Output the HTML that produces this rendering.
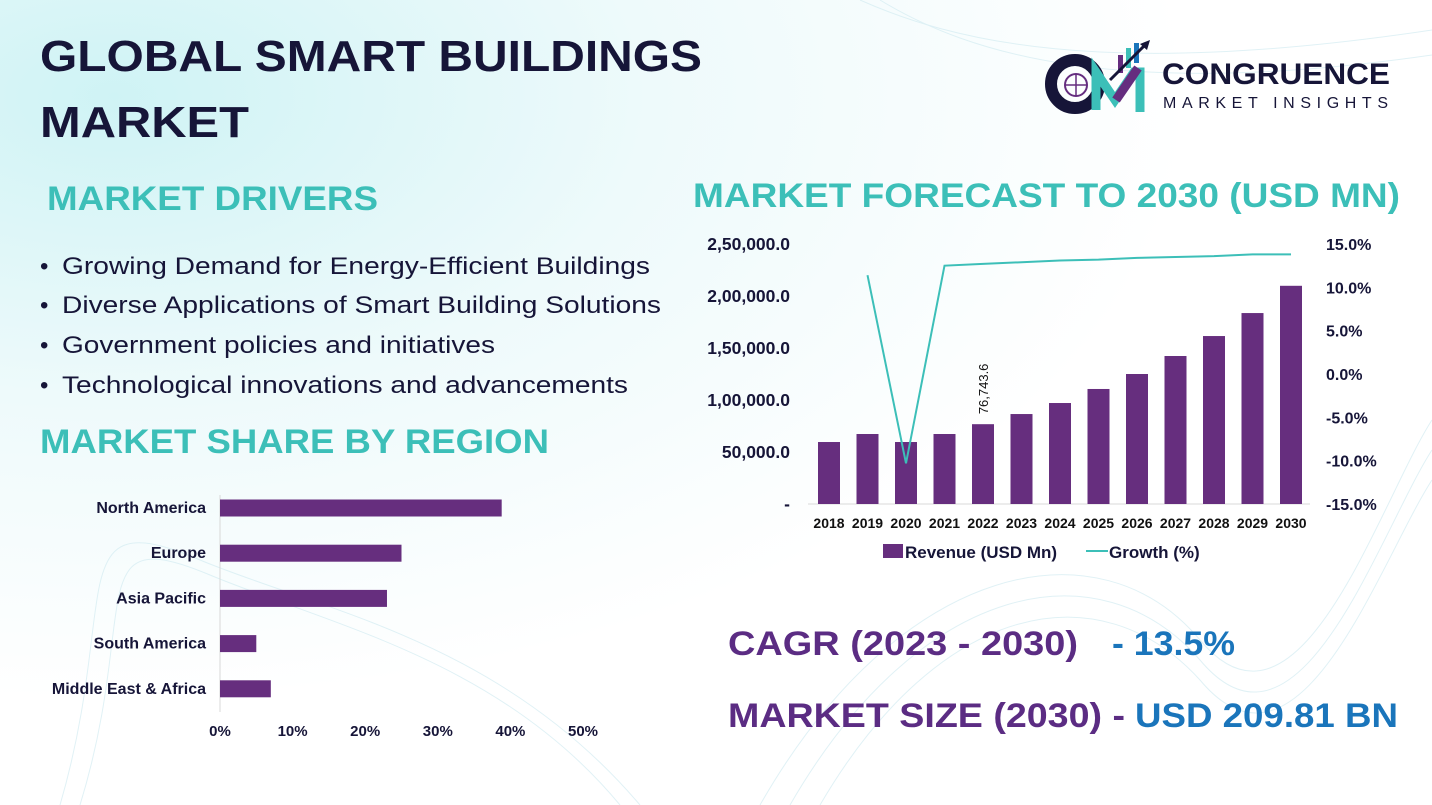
<!DOCTYPE html>
<html><head><meta charset="utf-8">
<style>
html,body{margin:0;padding:0;width:1432px;height:805px;overflow:hidden;background:#fff;}
svg{display:block;font-family:"Liberation Sans",sans-serif;}
</style></head>
<body>
<svg id="page" width="1432" height="805" viewBox="0 0 1432 805">
<defs>
<radialGradient id="bgG" cx="0.08" cy="0.12" r="0.75">
<stop offset="0" stop-color="#cff3f5"/><stop offset="0.5" stop-color="#eefafb"/><stop offset="1" stop-color="#ffffff"/>
</radialGradient>
</defs>
<rect width="1432" height="805" fill="url(#bgG)"/>
<g fill="none" stroke="#d4ecf2" stroke-width="1" opacity="0.7">
<path d="M60 805 C120 600 60 500 200 560 C320 610 500 640 640 805"/>
<path d="M80 805 C140 610 80 520 210 575 C330 625 500 660 620 805"/>
<path d="M760 805 C900 560 1100 520 1200 640 C1300 760 1380 500 1432 420"/>
<path d="M790 805 C920 580 1100 545 1200 660 C1300 780 1380 530 1432 450"/>
<path d="M820 805 C940 600 1100 570 1200 680 C1300 800 1380 560 1432 480"/>
<path d="M860 0 C950 40 1100 80 1432 30"/>
<path d="M880 0 C970 55 1120 100 1432 55"/>
</g>

<text x="40" y="71" font-size="44" font-weight="bold" fill="#161538" textLength="662" lengthAdjust="spacingAndGlyphs">GLOBAL SMART BUILDINGS</text>
<text x="40" y="137" font-size="44" font-weight="bold" fill="#161538" textLength="209" lengthAdjust="spacingAndGlyphs">MARKET</text>

<g>
<circle cx="1075" cy="84" r="24" fill="none" stroke="#161538" stroke-width="12"/>
<circle cx="1076" cy="85" r="11" fill="none" stroke="#652d7f" stroke-width="2"/>
<line x1="1065" y1="85" x2="1087" y2="85" stroke="#652d7f" stroke-width="1.5"/>
<line x1="1076" y1="74" x2="1076" y2="96" stroke="#652d7f" stroke-width="1.5"/>
<path d="M1096 110 L1096 72 L1115 100 L1134 72 L1140 72 L1140 112" fill="none" stroke="#3cbfb8" stroke-width="9"/>
<path d="M1116 100 L1138 68" stroke="#652d7f" stroke-width="9"/>
<rect x="1118" y="55" width="5" height="18" fill="#652d7f"/>
<rect x="1126" y="48" width="5" height="20" fill="#3cbfb8"/>
<rect x="1134" y="43" width="5" height="20" fill="#1a75bb"/>
<path d="M1110 80 L1140 50 L1146 44" stroke="#161538" stroke-width="3" fill="none"/>
<path d="M1150 40 L1140 44 L1147 50 Z" fill="#161538"/>
<text x="1162" y="84" font-size="30" font-weight="bold" fill="#161538" textLength="228" lengthAdjust="spacingAndGlyphs">CONGRUENCE</text>
<text x="1163" y="108" font-size="16" fill="#161538" textLength="225" lengthAdjust="spacing">MARKET INSIGHTS</text>
</g>

<text x="47" y="210" font-size="34" font-weight="bold" fill="#3cbfb8" textLength="331" lengthAdjust="spacingAndGlyphs">MARKET DRIVERS</text>
<g font-size="24" fill="#161538">
<text x="40" y="274">•</text><text x="62" y="274" textLength="588" lengthAdjust="spacingAndGlyphs">Growing Demand for Energy-Efficient Buildings</text>
<text x="40" y="313">•</text><text x="62" y="313" textLength="599" lengthAdjust="spacingAndGlyphs">Diverse Applications of Smart Building Solutions</text>
<text x="40" y="353">•</text><text x="62" y="353" textLength="433" lengthAdjust="spacingAndGlyphs">Government policies and initiatives</text>
<text x="40" y="393">•</text><text x="62" y="393" textLength="566" lengthAdjust="spacingAndGlyphs">Technological innovations and advancements</text>
</g>
<text x="40" y="453" font-size="34" font-weight="bold" fill="#3cbfb8" textLength="509" lengthAdjust="spacingAndGlyphs">MARKET SHARE BY REGION</text>
<text x="693" y="207" font-size="34" font-weight="bold" fill="#3cbfb8" textLength="707" lengthAdjust="spacingAndGlyphs">MARKET FORECAST TO 2030 (USD MN)</text>

<g id="regionChart"></g>
<g id="forecastChart"></g>

<text x="728" y="655" font-size="34" font-weight="bold" fill="#5b2c83" textLength="350" lengthAdjust="spacingAndGlyphs">CAGR (2023 - 2030)</text>
<text x="1112" y="655" font-size="34" font-weight="bold" fill="#1a75bb" textLength="123" lengthAdjust="spacingAndGlyphs">- 13.5%</text>
<text x="728" y="727" font-size="34" font-weight="bold" fill="#5b2c83" textLength="397" lengthAdjust="spacingAndGlyphs">MARKET SIZE (2030) -</text>
<text x="1135" y="727" font-size="34" font-weight="bold" fill="#1a75bb" textLength="263" lengthAdjust="spacingAndGlyphs">USD 209.81 BN</text>
</svg>
<script>
const NS='http://www.w3.org/2000/svg';
const regions=['North America','Europe','Asia Pacific','South America','Middle East & Africa'];
const regionShare=[38.8,25.0,23.0,5.0,7.0];
const regionTicks=[0,10,20,30,40,50];
const years=['2018','2019','2020','2021','2022','2023','2024','2025','2026','2027','2028','2029','2030'];
const revenue=[59600,67300,59600,67300,76743.6,86500,97100,110600,125000,142300,161500,183600,209810];
const growth=[null,11.4,-10.3,12.5,12.7,12.9,13.1,13.2,13.4,13.5,13.6,13.8,13.8];
const revTicks=[0,50000,100000,150000,200000,250000];
const revTickLabels=['-','50,000.0','1,00,000.0','1,50,000.0','2,00,000.0','2,50,000.0'];
const growthTicks=[-15,-10,-5,0,5,10,15];
const growthTickLabels=['-15.0%','-10.0%','-5.0%','0.0%','5.0%','10.0%','15.0%'];

function mk(parent,tag,attrs,text){const e=document.createElementNS(NS,tag);for(const k in attrs)e.setAttribute(k,attrs[k]);if(text!=null)e.textContent=text;parent.appendChild(e);return e;}

// Region chart
(function(){
const g=document.getElementById('regionChart');
const x0=220,x1=583;const xs=v=>x0+(v/50)*(x1-x0);
const yc=i=>508+i*45.2;
const ax=mk(g,'line',{x1:x0,y1:495,x2:x0,y2:712,stroke:'#d8d8d8','stroke-width':1});


regions.forEach((r,i)=>{
 const b=mk(g,'rect',{x:x0,y:yc(i)-8.5,width:xs(regionShare[i])-x0,height:17,fill:'#662e7e'});
 
 
 const t=mk(g,'text',{x:206,y:yc(i)+5,'text-anchor':'end','font-size':16,'font-weight':'bold',fill:'#161538'},r);
 
 
});
regionTicks.forEach(v=>{
 const t=mk(g,'text',{x:xs(v),y:736,'text-anchor':'middle','font-size':15,'font-weight':'bold',fill:'#161538'},v+'%');
 
 
});
})();

// Forecast chart
(function(){
const g=document.getElementById('forecastChart');
const yTop=244,yBot=504;
const yr=v=>yBot-(v/250000)*(yBot-yTop);
const yg=v=>yBot-((v+15)/30)*(yBot-yTop);
const xc=i=>829+i*38.5;
const base=mk(g,'line',{x1:808,y1:yBot,x2:1310,y2:yBot,stroke:'#d9d9d9','stroke-width':1});


revTicks.forEach((v,i)=>{
 const t=mk(g,'text',{x:790,y:yr(v)+6,'text-anchor':'end','font-size':17.5,'font-weight':'bold',fill:'#161538'},revTickLabels[i]);
 
 
});
growthTicks.forEach((v,i)=>{
 const t=mk(g,'text',{x:1326,y:yg(v)+6,'font-size':16,'font-weight':'bold',fill:'#161538'},growthTickLabels[i]);
 
 
});
years.forEach((y,i)=>{
 const b=mk(g,'rect',{x:xc(i)-11,y:yr(revenue[i]),width:22,height:yBot-yr(revenue[i]),fill:'#662e7e'});
 
 
 const t=mk(g,'text',{x:xc(i),y:528,'text-anchor':'middle','font-size':14,'font-weight':'bold',fill:'#111'},y);
 
 
});
const li=4;
const lbl=mk(g,'text',{x:0,y:0,'font-size':13,fill:'#111',transform:'translate('+(xc(li)+5)+','+(yr(revenue[li])-10)+') rotate(-90)'},revenue[li].toLocaleString('en-US',{minimumFractionDigits:1,maximumFractionDigits:1}));


let d='';growth.forEach((v,i)=>{if(v==null)return;d+=(d?'L':'M')+xc(i)+' '+yg(v)+' ';});
const p=mk(g,'path',{d:d,fill:'none',stroke:'#3cbfb8','stroke-width':2});


const lr=mk(g,'rect',{x:883,y:544,width:20,height:14,fill:'#662e7e'});


const lt=mk(g,'text',{x:905,y:558,'font-size':17,'font-weight':'bold',fill:'#161538'},'Revenue (USD Mn)');


const ll=mk(g,'line',{x1:1086,y1:551,x2:1108,y2:551,stroke:'#3cbfb8','stroke-width':2});


const lg=mk(g,'text',{x:1109,y:558,'font-size':17,'font-weight':'bold',fill:'#161538'},'Growth (%)');


})();
</script>
</body></html>
